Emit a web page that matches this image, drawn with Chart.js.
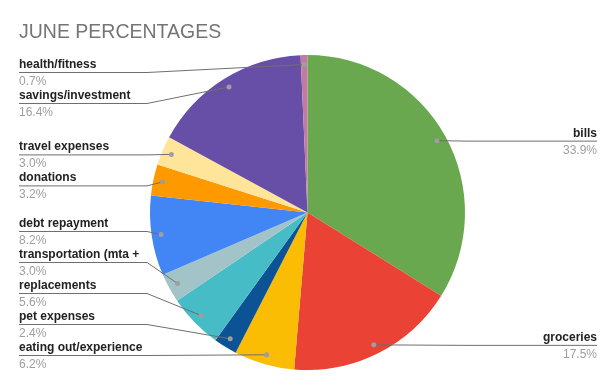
<!DOCTYPE html>
<html>
<head>
<meta charset="utf-8">
<script src="https://cdn.jsdelivr.net/npm/chart.js@4.4.0/dist/chart.umd.min.js"></script>
<style>
  html, body { margin: 0; padding: 0; background: #fff; }
  #wrap { width: 616px; height: 390px; position: relative; }
</style>
</head>
<body>
<div id="wrap"><canvas id="juneChart"></canvas></div>
<script>
const categories = ['bills', 'groceries', 'eating out/experience', 'pet expenses', 'replacements',
  'transportation (mta +', 'debt repayment', 'donations', 'travel expenses', 'savings/investment', 'health/fitness'];
const percents = [33.9, 17.5, 6.2, 2.4, 5.6, 3.0, 8.2, 3.2, 3.0, 16.4, 0.7];
const sliceColors = ['#6aa84f', '#ea4335', '#fbbc04', '#0b5394', '#46bdc6',
  '#a2c4c9', '#4285f4', '#ff9900', '#ffe599', '#674ea7', '#c27ba0'];

const FONT = '"Liberation Sans", Arial, sans-serif';

// leader lines + two-line labels, google sheets style
const sideLabels = {
  id: 'sideLabels',
  afterDraw(chart) {
    const ctx = chart.ctx;
    const area = chart.chartArea;
    const arcs = chart.getDatasetMeta(0).data;
    const left = [], right = [];
    let cx = 0, R = 0;
    arcs.forEach((arc, i) => {
      const p = arc.getProps(['x', 'y', 'startAngle', 'endAngle', 'outerRadius'], true);
      const mid = (p.startAngle + p.endAngle) / 2;
      cx = p.x; R = p.outerRadius;
      const item = {
        i,
        px: p.x + Math.cos(mid) * p.outerRadius * 0.94,
        py: p.y + Math.sin(mid) * p.outerRadius * 0.94
      };
      item.ly = item.py;
      (Math.cos(mid) >= 0 ? right : left).push(item);
    });

    const top = area.top + 17, bottom = area.bottom - 15, gap = 31;
    function spread(list) {
      list.sort((a, b) => a.py - b.py);
      list.forEach(it => { it.ly = Math.min(bottom, Math.max(top, it.ly)); });
      for (let k = 1; k < list.length; k++) list[k].ly = Math.max(list[k].ly, list[k - 1].ly + gap);
      list[list.length - 1].ly = Math.min(list[list.length - 1].ly, bottom);
      for (let k = list.length - 2; k >= 0; k--) list[k].ly = Math.min(list[k].ly, list[k + 1].ly - gap);
    }
    spread(left); spread(right);

    ctx.save();
    function draw(it, side) {
      const textX = side === 'left' ? 19 : 597;
      const elbow = side === 'left' ? cx - R - 3 : cx + R + 3;
      ctx.strokeStyle = '#6f6f6f';
      ctx.lineWidth = 1;
      ctx.beginPath();
      ctx.moveTo(textX, it.ly + 0.5);
      if (side === 'left') {
        ctx.lineTo(Math.min(elbow, it.px), it.ly + 0.5);
      } else {
        ctx.lineTo(Math.max(elbow, it.px), it.ly + 0.5);
      }
      ctx.lineTo(it.px, it.py);
      ctx.stroke();

      ctx.fillStyle = '#9e9e9e';
      ctx.beginPath();
      ctx.arc(it.px, it.py, 2.5, 0, Math.PI * 2);
      ctx.fill();

      ctx.textAlign = side === 'left' ? 'left' : 'right';
      ctx.textBaseline = 'alphabetic';
      ctx.font = 'bold 12px ' + FONT;
      ctx.fillStyle = '#222222';
      ctx.fillText(categories[it.i], textX, it.ly - 4);
      ctx.font = '12px ' + FONT;
      ctx.fillStyle = '#9e9e9e';
      ctx.fillText(percents[it.i].toFixed(1) + '%', textX, it.ly + 13);
    }
    left.forEach(it => draw(it, 'left'));
    right.forEach(it => draw(it, 'right'));

    ctx.font = '19.5px ' + FONT;
    ctx.fillStyle = '#757575';
    ctx.textAlign = 'left';
    ctx.fillText('JUNE PERCENTAGES', 19, 38);
    ctx.restore();
  }
};

new Chart(document.getElementById('juneChart'), {
  type: 'pie',
  data: {
    labels: categories,
    datasets: [{
      data: percents,
      backgroundColor: sliceColors,
      borderWidth: 0
    }]
  },
  options: {
    responsive: true, maintainAspectRatio: false,
    animation: false,
    layout: { padding: { top: 55, bottom: 20, left: 150, right: 151 } },
    plugins: { legend: { display: false }, tooltip: { enabled: false } }
  },
  plugins: [sideLabels]
});
</script>
</body>
</html>
